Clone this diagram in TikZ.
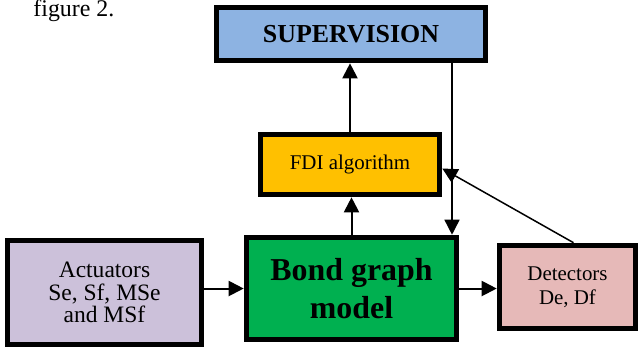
\documentclass[tikz,border=0pt]{standalone}
\usepackage{fontspec}
\setmainfont{Liberation Serif}
\usetikzlibrary{arrows.meta,calc}
\definecolor{SupClr}{RGB}{141,179,226}
\definecolor{FdiClr}{RGB}{255,192,0}
\definecolor{ModelClr}{RGB}{0,176,80}
\definecolor{ActClr}{RGB}{204,193,218}
\definecolor{DetClr}{RGB}{230,185,184}
\tikzset{
  blk/.style={draw=black,line width=2.8bp,rectangle,align=center,inner sep=0pt},
  conn/.style={line width=1bp,-{Triangle[length=7.5bp,width=7.5bp]}},
  thinconn/.style={conn,line width=0.75bp},
}

\begin{document}
\begin{tikzpicture}[x=0.5bp,y=-0.5bp]
\useasboundingbox (0,0) rectangle (639,350);

\node[anchor=base west,inner sep=0pt,font=\fontsize{12}{14}\selectfont] (cap) at (33,16) {figure 2.};

\node[blk,fill=SupClr,minimum width=134.5bp,minimum height=26.5bp,
  font=\fontsize{13}{15}\selectfont\bfseries] (sup) at (351,34) {SUPERVISION};
\node[blk,fill=FdiClr,minimum width=89.5bp,minimum height=30bp,
  font=\fontsize{10.5}{12}\selectfont] (fdi) at (350,164.5) {FDI algorithm};
\node[blk,fill=ModelClr,minimum width=105bp,minimum height=51bp,
  font=\fontsize{16}{19}\selectfont\bfseries] (bg) at (351.5,288.5) {Bond graph\\model};
\node[blk,fill=ActClr,minimum width=97bp,minimum height=52bp,
  font=\fontsize{11.8}{11.2}\selectfont] (act) at (104.5,292.5) {Actuators\\Se, Sf, MSe\\and MSf};
\node[blk,fill=DetClr,minimum width=68bp,minimum height=41.5bp,
  font=\fontsize{10.5}{12}\selectfont] (det) at (567.5,287) {Detectors\\De, Df};

\draw[conn] (act.east |- bg.west) -- (bg.west);
\draw[conn] (bg.east) -- (det.west |- bg.east);
\draw[conn] (bg.north) -- (bg.north |- fdi.south);
\draw[conn] (fdi.north) -- (fdi.north |- sup.south);
\draw[thinconn] ([xshift=50.5bp]sup.south) -- ([xshift=50.5bp]sup.south |- bg.north);
\draw[thinconn] ([xshift=3bp]det.north) -- ([yshift=-2bp]fdi.east);

\end{tikzpicture}
\end{document}
